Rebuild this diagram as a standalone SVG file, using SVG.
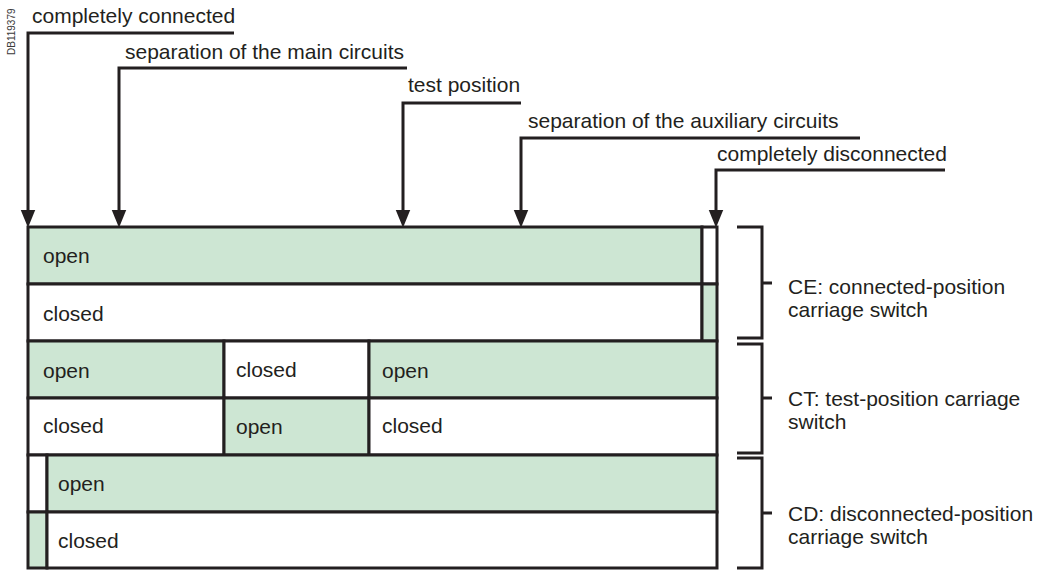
<svg xmlns="http://www.w3.org/2000/svg" width="1040" height="570" viewBox="0 0 1040 570">
  <style>
    .lbl { font-family: "Liberation Sans", Arial, Helvetica, sans-serif; font-size: 21px; fill: #231f20; }
    .ref { font-family: "Liberation Sans", Arial, Helvetica, sans-serif; font-size: 10px; fill: #3a3a3a; }
    .ln { fill: none; stroke: #231f20; stroke-width: 3; }
    .on { fill: #cde6d3; stroke: #231f20; stroke-width: 3; }
    .off { fill: #ffffff; stroke: #231f20; stroke-width: 3; }
  </style>
  <defs>
    <marker id="arrow" markerUnits="userSpaceOnUse" markerWidth="20" markerHeight="20" refX="9" refY="0" orient="auto" viewBox="0 -8 18 16" overflow="visible">
      <path d="M0,-6.5 L16,0 L0,6.5 z" fill="#231f20"/>
    </marker>
  </defs>

  <rect width="1040" height="570" fill="#ffffff"/>

  <!-- drawing reference number -->
  <text class="ref" transform="translate(15,55) rotate(-90)">DB119379</text>

  <!-- position labels -->
  <g id="pos-connected">
    <text class="lbl" x="32" y="23">completely connected</text>
  </g>
  <g id="pos-main-sep">
    <text class="lbl" x="125" y="59">separation of the main circuits</text>
  </g>
  <g id="pos-test">
    <text class="lbl" x="408" y="92">test position</text>
  </g>
  <g id="pos-aux-sep">
    <text class="lbl" x="528" y="128">separation of the auxiliary circuits</text>
  </g>
  <g id="pos-disconnected">
    <text class="lbl" x="717" y="161">completely disconnected</text>
  </g>

  <!-- leader lines from each label down to the switch table -->
  <g id="connectors">
    <path class="ln" d="M234,33 H28 V220" marker-end="url(#arrow)"/>
    <path class="ln" d="M407,68 H119 V220" marker-end="url(#arrow)"/>
    <path class="ln" d="M521,103 H403 V220" marker-end="url(#arrow)"/>
    <path class="ln" d="M860,138 H521 V220" marker-end="url(#arrow)"/>
    <path class="ln" d="M945,170 H716 V220" marker-end="url(#arrow)"/>
  </g>

  <!-- CE: connected-position carriage switch -->
  <g id="ce-open">
    <rect class="on" x="28" y="227" width="674" height="57"/>
    <rect class="off" x="702" y="227" width="15" height="57"/>
    <text class="lbl" x="43" y="263">open</text>
  </g>
  <g id="ce-closed">
    <rect class="off" x="28" y="284" width="674" height="57"/>
    <rect class="on" x="702" y="284" width="15" height="57"/>
    <text class="lbl" x="43" y="321">closed</text>
  </g>

  <!-- CT: test-position carriage switch -->
  <g id="ct-open">
    <rect class="on" x="28" y="341" width="196" height="57"/>
    <rect class="off" x="224" y="341" width="145" height="57"/>
    <rect class="on" x="369" y="341" width="348" height="57"/>
    <text class="lbl" x="43" y="378">open</text>
    <text class="lbl" x="236" y="377">closed</text>
    <text class="lbl" x="382" y="378">open</text>
  </g>
  <g id="ct-closed">
    <rect class="off" x="28" y="398" width="196" height="57"/>
    <rect class="on" x="224" y="398" width="145" height="57"/>
    <rect class="off" x="369" y="398" width="348" height="57"/>
    <text class="lbl" x="43" y="433">closed</text>
    <text class="lbl" x="236" y="434">open</text>
    <text class="lbl" x="382" y="433">closed</text>
  </g>

  <!-- CD: disconnected-position carriage switch -->
  <g id="cd-open">
    <rect class="off" x="28" y="455" width="19" height="57"/>
    <rect class="on" x="47" y="455" width="670" height="57"/>
    <text class="lbl" x="58" y="491">open</text>
  </g>
  <g id="cd-closed">
    <rect class="on" x="28" y="512" width="19" height="56"/>
    <rect class="off" x="47" y="512" width="670" height="56"/>
    <text class="lbl" x="58" y="548">closed</text>
  </g>

  <!-- brackets and switch names -->
  <g id="bracket-ce">
    <path class="ln" d="M737,227 H762 V338 H737 M762,283 H772"/>
    <text class="lbl" x="788" y="294">CE: connected-position</text>
    <text class="lbl" x="788" y="317">carriage switch</text>
  </g>
  <g id="bracket-ct">
    <path class="ln" d="M737,344 H762 V453 H737 M762,398 H772"/>
    <text class="lbl" x="788" y="406">CT: test-position carriage</text>
    <text class="lbl" x="788" y="429">switch</text>
  </g>
  <g id="bracket-cd">
    <path class="ln" d="M737,458 H762 V568 H737 M762,513 H772"/>
    <text class="lbl" x="788" y="521">CD: disconnected-position</text>
    <text class="lbl" x="788" y="544">carriage switch</text>
  </g>
</svg>
